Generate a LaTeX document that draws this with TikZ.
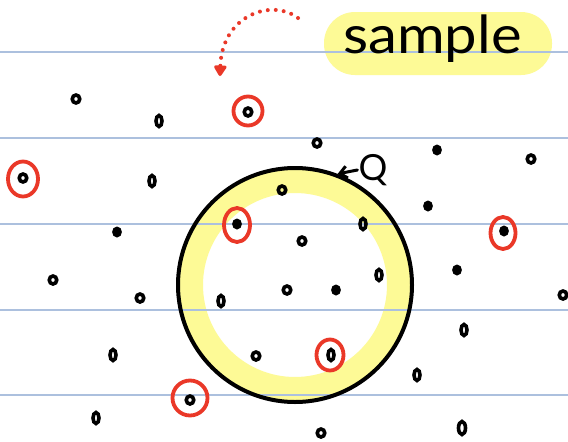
\documentclass[tikz,border=0pt]{standalone}
\usepackage{fontspec}
\setmainfont{Lato}
\usetikzlibrary{arrows.meta,shapes.geometric}
\definecolor{hl}{RGB}{253,250,150}
\definecolor{rulec}{RGB}{172,192,222}
\definecolor{ink}{RGB}{0,0,0}
\definecolor{redink}{RGB}{234,56,40}
\begin{document}
\begin{tikzpicture}[x=1pt,y=-1pt,
  dotp/.style={draw=ink, ellipse, line width=3.6pt, minimum width=7.5pt, minimum height=8pt, inner sep=0pt},
  tallp/.style={dotp, minimum width=6pt, minimum height=11pt},
  blobp/.style={dotp, fill=ink, minimum width=6pt, minimum height=7pt},
  redring/.style={draw=redink, ellipse, line width=3.8pt, inner sep=0pt},
  rulel/.style={draw=rulec, line width=1.3pt},
  arrowpen/.style={draw=redink, line width=4pt, line cap=round, dash pattern=on 0pt off 8pt}]
\useasboundingbox (0,0) rectangle (568,442);
\fill[white] (0,0) rectangle (568,442);
% highlights
\node[fill=hl, rounded corners=31pt, minimum width=228pt, minimum height=63pt, inner sep=0pt] (hlbox) at (438,43.5) {};
\node[draw=hl, circle, line width=25pt, minimum size=209pt, inner sep=0pt] (band) at (295,285) {};
% ruled lines
\foreach \yy in {52,138,224,310,395} \draw[rulel] (0,\yy) -- (568,\yy);
% label
\node[anchor=base west, inner sep=0pt, font=\fontsize{50}{50}\selectfont] (smp) at (343,53) {\scalebox{1.16}[1.05]{sample}};
% big circle
\node[draw=ink, circle, line width=4pt, minimum size=234pt, inner sep=0pt] (bigc) at (295,285) {};
\node[font=\fontsize{36}{36}\selectfont, inner sep=1pt] (q) at (373,170) {Q};
\draw[ink, line width=3pt, line cap=round, -{Straight Barb[length=7pt,width=12pt]}] (q.west) -- (bigc.69);
% red dotted arrow
\coordinate (ars) at (298,18);
\coordinate (are) at (220,76);
\draw[arrowpen, -{Triangle[length=12pt,width=14pt,round]}] (ars) .. controls (272,-2) and (222,15) .. (are);
% dots
\node[dotp] (d1) at (76,99) {};
\node[tallp] (d2) at (159,121) {};
\node[dotp] (d3) at (248,112) {};
\node[dotp] (d4) at (23,178) {};
\node[tallp] (d5) at (152,181) {};
\node[blobp] (d6) at (117,232) {};
\node[dotp] (d7) at (282,190) {};
\node[blobp] (d8) at (237,224) {};
\node[dotp] (d9) at (317,143) {};
\node[blobp] (d10) at (437,150) {};
\node[dotp] (d11) at (531,159) {};
\node[blobp] (d12) at (428,206) {};
\node[tallp] (d13) at (363,224) {};
\node[dotp] (d14) at (302,241) {};
\node[blobp] (d15) at (504,231) {};
\node[dotp] (d16) at (53,280) {};
\node[dotp] (d17) at (140,298) {};
\node[tallp] (d18) at (221,301) {};
\node[tallp] (d19) at (113,355) {};
\node[dotp] (d20) at (256,356) {};
\node[dotp] (d21) at (190,400) {};
\node[tallp] (d22) at (96,418) {};
\node[dotp] (d23) at (287,290) {};
\node[blobp] (d24) at (336,290) {};
\node[tallp] (d25) at (379,275) {};
\node[blobp] (d26) at (457,270) {};
\node[dotp] (d27) at (563,295) {};
\node[tallp] (d28) at (464,330) {};
\node[tallp] (d29) at (331,355) {};
\node[tallp] (d30) at (417,375) {};
\node[dotp] (d31) at (321,433) {};
\node[tallp, minimum width=7pt, minimum height=13pt] (d32) at (462,428) {};
% red rings
\node[redring, minimum width=29pt, minimum height=29pt] (r1) at (248,111) {};
\node[redring, minimum width=30pt, minimum height=35pt] (r2) at (23,179) {};
\node[redring, minimum width=26pt, minimum height=34pt] (r3) at (237,225) {};
\node[redring, minimum width=25pt, minimum height=32pt] (r4) at (503,233) {};
\node[redring, minimum width=35pt, minimum height=35pt] (r5) at (190,398) {};
\node[redring, minimum width=27pt, minimum height=31pt] (r6) at (330,355) {};
\end{tikzpicture}
\end{document}
